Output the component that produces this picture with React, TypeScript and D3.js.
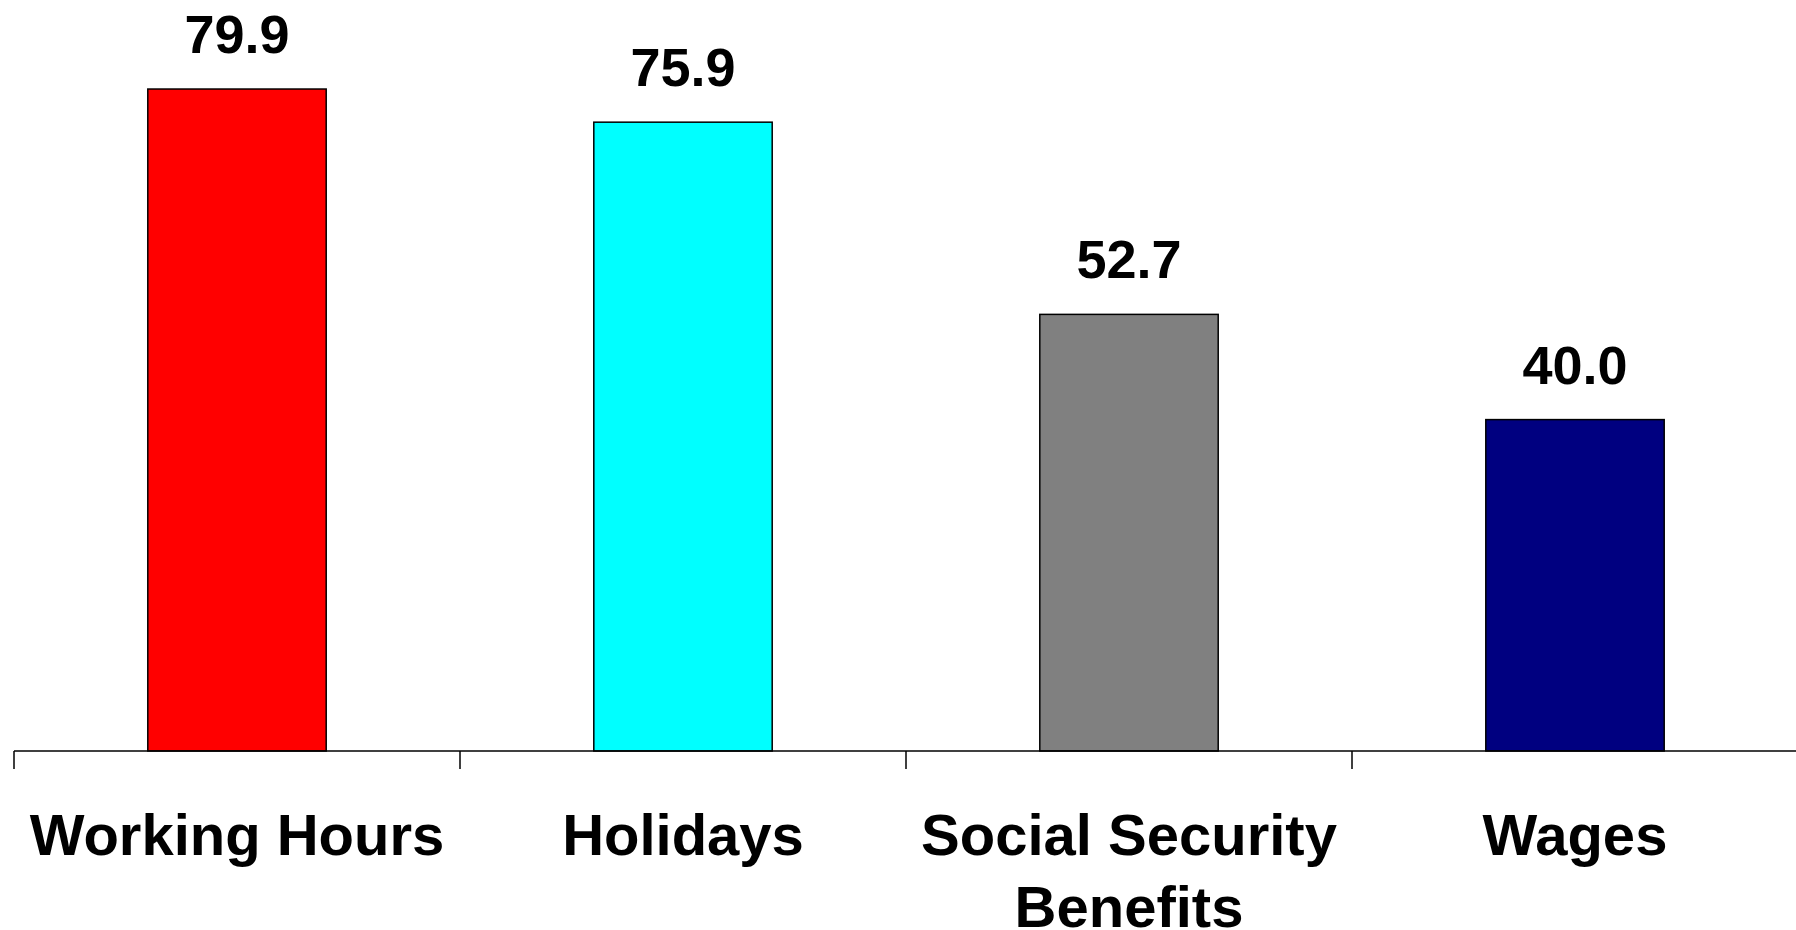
import React from "react";
import * as d3 from "d3";

const categories: string[][] = [["Working Hours"], ["Holidays"], ["Social Security", "Benefits"], ["Wages"]];
const values: number[] = [79.9, 75.9, 52.7, 40.0];
const colors: string[] = ["#FF0000", "#00FFFF", "#808080", "#000080"];
const valueLabels: string[] = ["79.9", "75.9", "52.7", "40.0"];

const W = 1796;
const H = 930;
const axisY = 751;
const x0 = 14;
const band = 446;

export default function App() {
  const keys = categories.map((c) => c.join(" "));
  const x = d3.scaleBand<string>().domain(keys).range([x0, x0 + band * keys.length]).paddingInner(0).paddingOuter(0);
  const y = d3.scaleLinear().domain([0, 90]).range([axisY, axisY - 8.285 * 90]);
  const bw = x.bandwidth() * 0.4;
  const font = "'Liberation Sans', Arial, Helvetica, sans-serif";
  return (
    <svg width={W} height={H} style={{ position: "absolute", left: 0, top: 0, display: "block", background: "#fff" }}>
      {keys.map((k, i) => {
        const cx = (x(k) as number) + x.bandwidth() / 2;
        return (
          <g key={k}>
            <rect x={cx - bw / 2} y={y(values[i])} width={bw} height={axisY - y(values[i])} fill={colors[i]} stroke="#000" strokeWidth={1.5} />
            <text x={cx} y={y(values[i]) - 36} textAnchor="middle" fontFamily={font} fontWeight="bold" fontSize={54} fill="#000">
              {valueLabels[i]}
            </text>
            {categories[i].map((line, j) => (
              <text key={j} x={cx} y={855 + j * 72} textAnchor="middle" fontFamily={font} fontWeight="bold" fontSize={58} fill="#000">
                {line}
              </text>
            ))}
          </g>
        );
      })}
      <line x1={x0} x2={W} y1={axisY} y2={axisY} stroke="#000" strokeWidth={1.5} />
      {keys.map((k) => (
        <line key={k} x1={x(k) as number} x2={x(k) as number} y1={axisY} y2={axisY + 18} stroke="#000" strokeWidth={1.5} />
      ))}
    </svg>
  );
}
